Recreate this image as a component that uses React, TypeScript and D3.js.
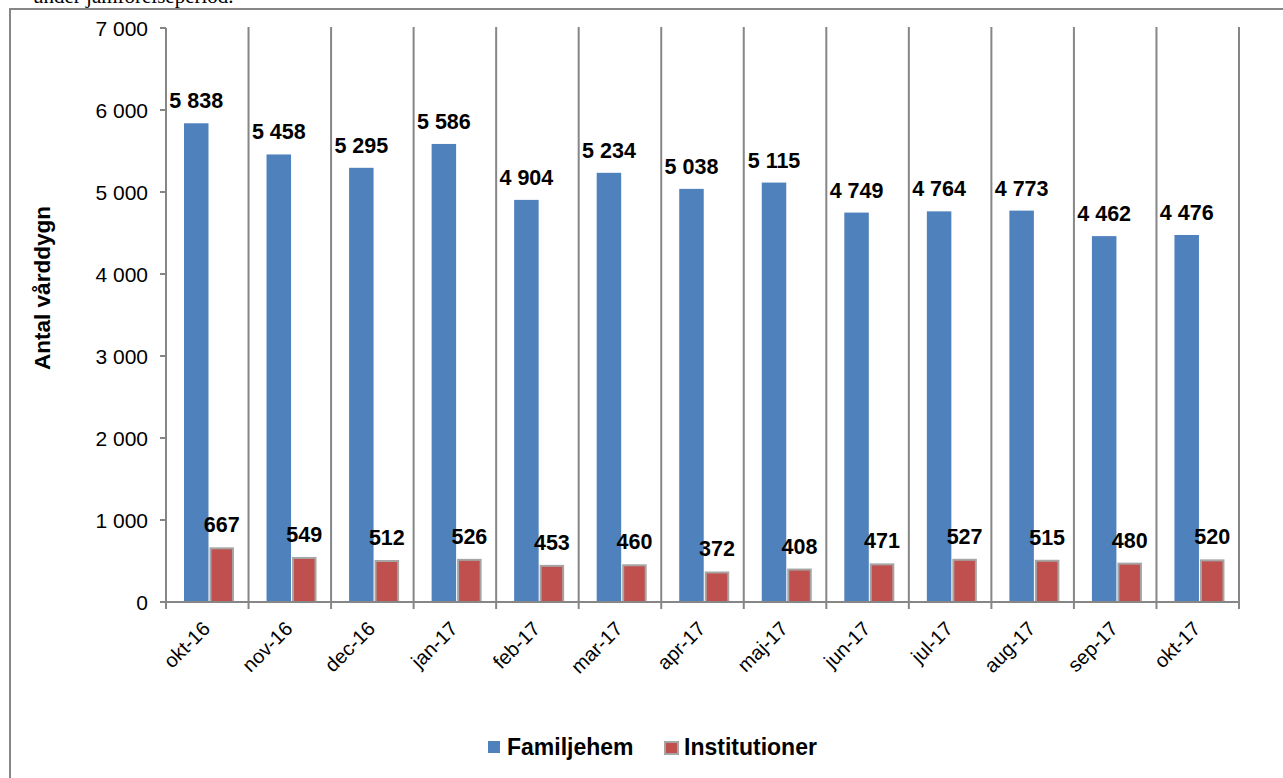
import React from "react";
import * as d3 from "d3";

const categories = ["okt-16","nov-16","dec-16","jan-17","feb-17","mar-17","apr-17","maj-17","jun-17","jul-17","aug-17","sep-17","okt-17"];
const familjehem = [5838,5458,5295,5586,4904,5234,5038,5115,4749,4764,4773,4462,4476];
const institutioner = [667,549,512,526,453,460,372,408,471,527,515,480,520];
const yTicks = [0,1000,2000,3000,4000,5000,6000,7000];

const fmt = (v: number) => d3.format(",")(v).replace(/,/g, " ");

export default function App() {
  const W = 1283, H = 778;
  const left = 166, right = 1239, top = 28, bottom = 602;
  const x = d3.scaleBand<string>().domain(categories).range([left, right]);
  const y = d3.scaleLinear().domain([0, 7000]).range([bottom, top]);
  const step = x.step();
  const bw = 24.5;
  const off = 18;
  const axis = "#868686";
  const font = "Arial, 'Liberation Sans', sans-serif";
  return (
    <svg width={W} height={H} style={{ position: "absolute", left: 0, top: 0 }}>
      <rect x={0} y={0} width={W} height={H} fill="#fff" />
      <text x={33} y={3} fontFamily="'Liberation Serif', 'Times New Roman', serif" fontSize={21} fill="#000">under jämförelseperiod.</text>
      <rect x={10} y={9} width={W + 20} height={H + 20} fill="none" stroke={axis} strokeWidth={2} />
      {/* dividers */}
      {categories.map((c) => (
        <line key={"d" + c} x1={x(c)! + step} x2={x(c)! + step} y1={top - 1} y2={bottom + 7} stroke={axis} strokeWidth={2} />
      ))}
      <line x1={left} x2={left} y1={bottom + 7} y2={bottom} stroke={axis} strokeWidth={2} />
      {/* y axis */}
      <line x1={left} x2={left} y1={top} y2={bottom} stroke={axis} strokeWidth={2} />
      {yTicks.map(t => (
        <g key={t}>
          <line x1={left - 6} x2={left} y1={y(t)} y2={y(t)} stroke={axis} strokeWidth={2} />
          <text x={left - 18} y={y(t)} dy="0.36em" textAnchor="end" fontFamily={font} fontSize={21} fill="#000">{fmt(t)}</text>
        </g>
      ))}
      {/* bars */}
      {categories.map((c, i) => {
        const x0 = x(c)! + off;
        const x1 = x0 + bw + 1;
        return (
          <g key={c}>
            <rect x={x0} y={y(familjehem[i])} width={bw} height={bottom - y(familjehem[i])} fill="#4F81BD" />
            <rect x={x1 + 1} y={y(institutioner[i]) + 1} width={bw - 2} height={bottom - y(institutioner[i]) - 1} fill="#C0504D" stroke="#A5A5A5" strokeWidth={2} />
            <text x={x0 + bw / 2} y={y(familjehem[i]) - 15} textAnchor="middle" fontFamily={font} fontWeight="bold" fontSize={21.5} fill="#000">{fmt(familjehem[i])}</text>
            <text x={x1 + bw / 2} y={y(institutioner[i]) - 15} textAnchor="middle" fontFamily={font} fontWeight="bold" fontSize={21.5} fill="#000">{fmt(institutioner[i])}</text>
          </g>
        );
      })}
      {/* x axis */}
      <line x1={left} x2={right} y1={bottom} y2={bottom} stroke={axis} strokeWidth={2} />
      {categories.map(c => (
        <text key={"l" + c} transform={`translate(${x(c)! + step / 2 + 4},${bottom + 28}) rotate(-45)`} textAnchor="end" fontFamily={font} fontSize={20} fill="#000">{c}</text>
      ))}
      {/* y title */}
      <text transform={`translate(50,288) rotate(-90)`} textAnchor="middle" fontFamily={font} fontWeight="bold" fontSize={22.5} fill="#000">Antal vårddygn</text>
      {/* legend */}
      <rect x={488} y={741} width={12} height={12} fill="#4F81BD" />
      <text x={507} y={755} fontFamily={font} fontWeight="bold" fontSize={23} fill="#000">Familjehem</text>
      <rect x={665} y={742} width={13} height={12} fill="#C0504D" stroke="#A5A5A5" strokeWidth={2} />
      <text x={684} y={755} fontFamily={font} fontWeight="bold" fontSize={23} fill="#000">Institutioner</text>
    </svg>
  );
}
